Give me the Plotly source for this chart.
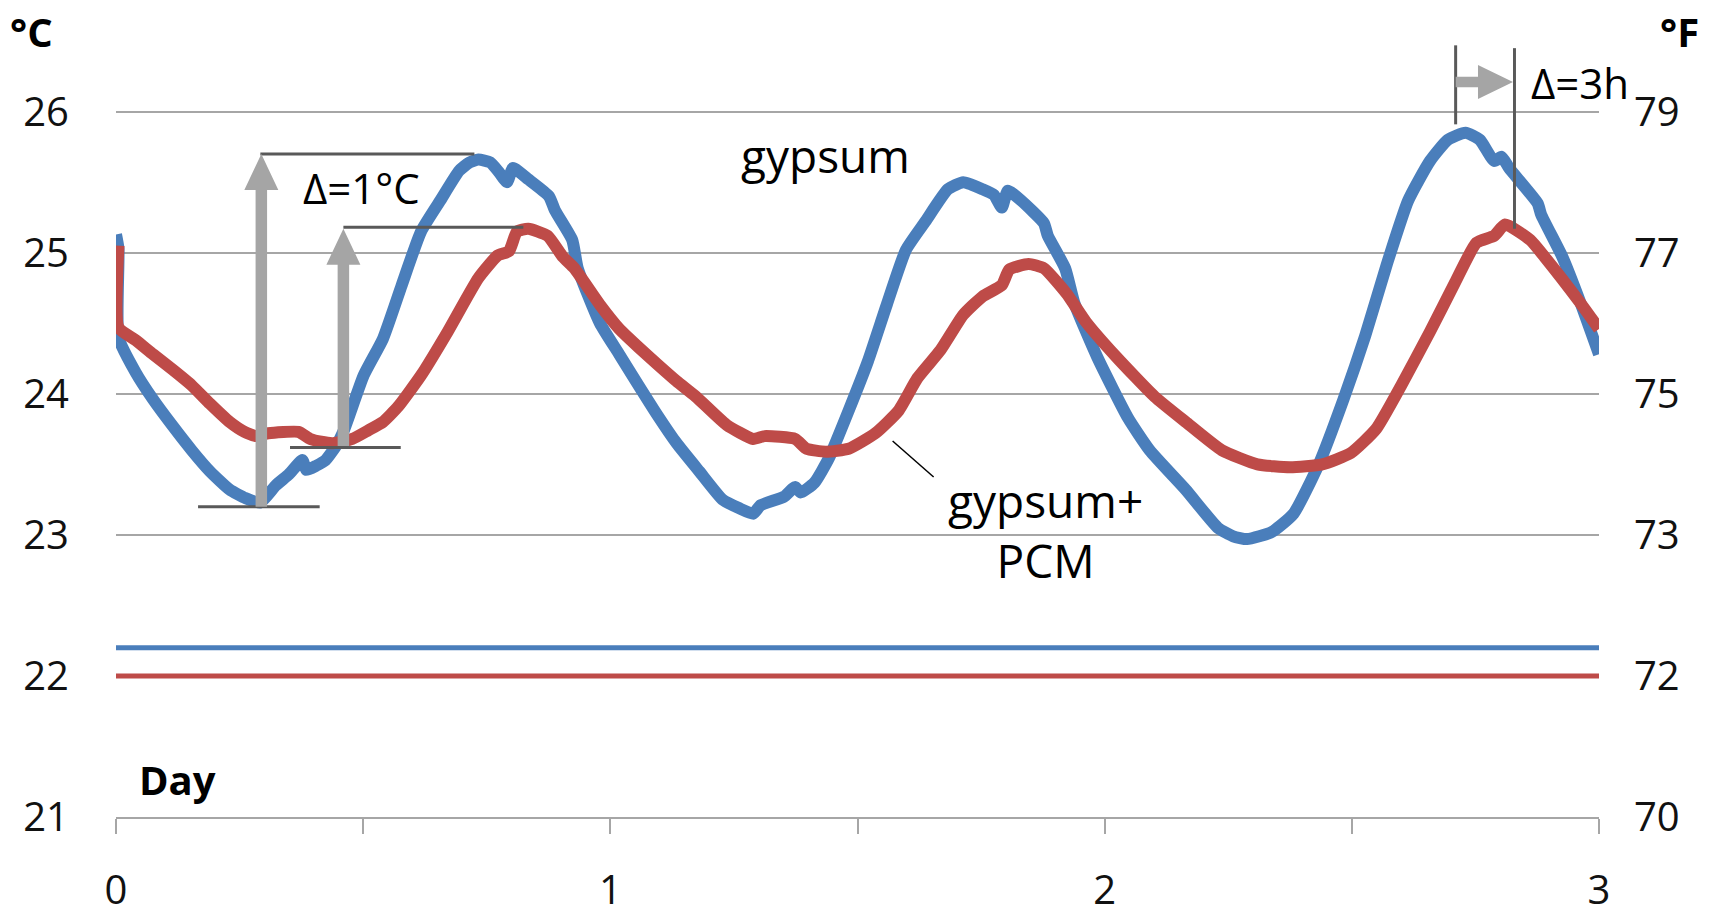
import plotly.graph_objects as go

# Measured room temperature over three days (x in days, y in °C)
gypsum_day = [0.000, 0.005, 0.005, 0.040, 0.075, 0.115, 0.153, 0.190, 0.230, 0.262,
              0.292, 0.323, 0.350, 0.377, 0.385, 0.405, 0.424, 0.445, 0.462, 0.501,
              0.540, 0.578, 0.617, 0.656, 0.694, 0.715, 0.733, 0.757, 0.775, 0.791,
              0.803, 0.834, 0.876, 0.888, 0.923, 0.934, 0.979, 1.018, 1.057, 1.095,
              1.134, 1.180, 1.227, 1.260, 1.289, 1.304, 1.351, 1.374, 1.385, 1.413,
              1.443, 1.482, 1.521, 1.560, 1.598, 1.637, 1.683, 1.714, 1.753, 1.776,
              1.792, 1.804, 1.831, 1.877, 1.885, 1.920, 1.939, 1.985, 2.047, 2.091,
              2.164, 2.229, 2.260, 2.288, 2.338, 2.382, 2.433, 2.483, 2.527, 2.571,
              2.614, 2.658, 2.694, 2.730, 2.759, 2.788, 2.803, 2.818, 2.876, 2.883,
              2.926, 2.963, 3.000]
gypsum_temp = [25.13, 25.03, 24.40, 24.15, 23.96, 23.77, 23.60, 23.45, 23.32, 23.26,
               23.23, 23.35, 23.43, 23.53, 23.46, 23.49, 23.53, 23.63, 23.75, 24.13,
               24.39, 24.77, 25.15, 25.37, 25.58, 25.64, 25.66, 25.64, 25.57, 25.50,
               25.60, 25.52, 25.40, 25.30, 25.09, 24.89, 24.50, 24.28, 24.06, 23.85,
               23.65, 23.45, 23.25, 23.19, 23.15, 23.21, 23.27, 23.34, 23.30, 23.37,
               23.55, 23.88, 24.23, 24.64, 25.02, 25.22, 25.45, 25.50, 25.45, 25.41,
               25.32, 25.44, 25.37, 25.21, 25.12, 24.89, 24.64, 24.26, 23.83, 23.60,
               23.32, 23.05, 22.99, 22.97, 23.02, 23.15, 23.50, 23.96, 24.41, 24.92,
               25.37, 25.65, 25.80, 25.85, 25.80, 25.65, 25.68, 25.60, 25.35, 25.27,
               24.97, 24.64, 24.28]

pcm_day = [0.005, 0.005, 0.040, 0.075, 0.115, 0.153, 0.190, 0.230, 0.260, 0.284,
           0.308, 0.369, 0.393, 0.415, 0.439, 0.478, 0.510, 0.540, 0.571, 0.617,
           0.671, 0.733, 0.772, 0.795, 0.811, 0.834, 0.873, 0.904, 0.927, 0.979,
           1.018, 1.057, 1.095, 1.134, 1.173, 1.235, 1.289, 1.312, 1.374, 1.397,
           1.436, 1.482, 1.536, 1.583, 1.621, 1.668, 1.714, 1.753, 1.792, 1.807,
           1.846, 1.877, 1.923, 1.962, 2.024, 2.101, 2.164, 2.237, 2.309, 2.375,
           2.440, 2.498, 2.549, 2.600, 2.658, 2.709, 2.752, 2.788, 2.810, 2.861,
           2.890, 2.963, 3.000]
pcm_temp = [25.05, 24.47, 24.38, 24.28, 24.17, 24.06, 23.93, 23.80, 23.73, 23.70,
            23.72, 23.73, 23.68, 23.66, 23.65, 23.68, 23.74, 23.80, 23.91, 24.13,
            24.44, 24.82, 24.98, 25.01, 25.15, 25.17, 25.12, 24.97, 24.89, 24.63,
            24.46, 24.33, 24.21, 24.09, 23.98, 23.78, 23.68, 23.70, 23.68, 23.61,
            23.59, 23.61, 23.72, 23.88, 24.11, 24.31, 24.56, 24.69, 24.77, 24.88,
            24.92, 24.89, 24.71, 24.51, 24.26, 23.98, 23.80, 23.60, 23.50, 23.48,
            23.50, 23.58, 23.75, 24.06, 24.44, 24.79, 25.07, 25.12, 25.20, 25.09,
            24.97, 24.64, 24.46]

# Constant reference levels (°C)
setpoint_days = [0, 3]
gypsum_setpoint = 22.2
pcm_setpoint = 22.0

celsius_ticks = [21, 22, 23, 24, 25, 26]
fahrenheit_labels = ["70", "72", "73", "75", "77", "79"]
day_ticks = [0, 0.5, 1, 1.5, 2, 2.5, 3]
day_labels = ["0", "", "1", "", "2", "", "3"]

BLUE = "#4A7EBB"
RED = "#BE4B48"
GRID = "#A6A6A6"
ARROW = "#A5A5A5"
DARK = "#595959"
FONT = "Open Sans"

W, H = 1713, 913
ML, MR, MT, MB = 116, 114, 27, 96
Y_RANGE = [21, 26.6]
X_RANGE = [0, 3]
px_per_day = (W - ML - MR) / (X_RANGE[1] - X_RANGE[0])
px_per_deg = (H - MT - MB) / (Y_RANGE[1] - Y_RANGE[0])

fig = go.Figure()

curve_line = dict(width=12, shape="spline", smoothing=0.5)
fig.add_trace(go.Scatter(x=gypsum_day, y=gypsum_temp, mode="lines",
                         line=dict(color=BLUE, **curve_line), showlegend=False,
                         hoverinfo="skip"))
fig.add_trace(go.Scatter(x=pcm_day, y=pcm_temp, mode="lines",
                         line=dict(color=RED, **curve_line), showlegend=False,
                         hoverinfo="skip"))
fig.add_trace(go.Scatter(x=setpoint_days, y=[gypsum_setpoint] * 2, mode="lines",
                         line=dict(color=BLUE, width=5), showlegend=False,
                         hoverinfo="skip", yaxis="y2"))
fig.add_trace(go.Scatter(x=setpoint_days, y=[pcm_setpoint] * 2, mode="lines",
                         line=dict(color=RED, width=5), showlegend=False,
                         hoverinfo="skip", yaxis="y2"))


def up_arrow(x, y0, y1):
    s = 5.75 / px_per_day
    hw = 17 / px_per_day
    hl = 36 / px_per_deg
    yb = y1 - hl
    return (f"M {x - s},{y0} L {x + s},{y0} L {x + s},{yb} L {x + hw},{yb} "
            f"L {x},{y1} L {x - hw},{yb} L {x - s},{yb} Z")


def right_arrow(y, x0, x1):
    s = 5.3 / px_per_deg
    hw = 17 / px_per_deg
    hl = 35 / px_per_day
    xb = x1 - hl
    return (f"M {x0},{y - s} L {xb},{y - s} L {xb},{y - hw} L {x1},{y} "
            f"L {xb},{y + hw} L {xb},{y + s} L {x0},{y + s} Z")


shapes = []
# amplitude markers
for x0, x1, y in [(0.292, 0.725, 25.70), (0.166, 0.412, 23.20),
                  (0.460, 0.824, 25.18), (0.352, 0.576, 23.62)]:
    shapes.append(dict(type="line", xref="x", yref="y", x0=x0, x1=x1, y0=y, y1=y,
                       line=dict(color=DARK, width=3)))
shapes.append(dict(type="path", xref="x", yref="y", path=up_arrow(0.294, 23.20, 25.70),
                   fillcolor=ARROW, line=dict(width=0)))
shapes.append(dict(type="path", xref="x", yref="y", path=up_arrow(0.460, 23.63, 25.17),
                   fillcolor=ARROW, line=dict(width=0)))
# peak shift markers
shapes.append(dict(type="line", xref="x", yref="y", x0=2.710, x1=2.710, y0=25.91, y1=26.47,
                   line=dict(color=DARK, width=3)))
shapes.append(dict(type="line", xref="x", yref="y", x0=2.829, x1=2.829, y0=25.17, y1=26.45,
                   line=dict(color=DARK, width=3)))
shapes.append(dict(type="path", xref="x", yref="y", path=right_arrow(26.21, 2.710, 2.826),
                   fillcolor=ARROW, line=dict(width=0)))
# leader line for the PCM label
shapes.append(dict(type="line", xref="x", yref="y", x0=1.571, x1=1.654, y0=23.665, y1=23.41,
                   line=dict(color="black", width=1.5)))


def px_to_paper(px, py):
    return (px - ML) / (W - ML - MR), (H - MB - py) / (H - MT - MB)


cx, cy = px_to_paper(31, 31)
fx, fy = px_to_paper(1680, 31)


def label(text, x, y, size, ref="data"):
    xr, yr = ("x", "y") if ref == "data" else ("paper", "paper")
    return dict(text=text, x=x, y=y, xref=xr, yref=yr, showarrow=False,
                xanchor="center", yanchor="middle", align="center",
                font=dict(size=size, color="black", family=FONT))


annotations = [
    label("gypsum", 1.435, 25.69, 46),
    label("gypsum+<br>PCM", 1.881, 23.035, 46),
    label("Δ=1°C", 0.496, 25.465, 42),
    label("Δ=3h", 2.961, 26.205, 42),
    label("<b>Day</b>", 0.124, 21.265, 40),
    label("<b>°C</b>", cx, cy, 40, ref="paper"),
    label("<b>°F</b>", fx, fy, 40, ref="paper"),
]

fig.update_layout(
    width=W, height=H, autosize=False,
    margin=dict(l=ML, r=MR, t=MT, b=MB, pad=0, autoexpand=False),
    paper_bgcolor="white", plot_bgcolor="white",
    font=dict(family=FONT, color="#111111"),
    xaxis=dict(range=X_RANGE, tickvals=day_ticks, ticktext=day_labels,
               ticks="outside", ticklen=15, tickwidth=1.5, tickcolor=GRID,
               showline=True, linecolor=GRID, linewidth=2, showgrid=False,
               zeroline=False, ticklabelstandoff=22, automargin=False,
               tickfont=dict(size=40, family=FONT, color="#111111")),
    yaxis=dict(range=Y_RANGE, tickvals=celsius_ticks, ticktext=[str(v) for v in celsius_ticks],
               showgrid=True, gridcolor=GRID, gridwidth=1.5, zeroline=False,
               showline=False, ticks="", ticklabelstandoff=46, automargin=False,
               tickfont=dict(size=40, family=FONT, color="#111111")),
    yaxis2=dict(range=Y_RANGE, overlaying="y", side="right", tickvals=celsius_ticks,
                ticktext=fahrenheit_labels, showgrid=False, zeroline=False,
                showline=False, ticks="", ticklabelstandoff=34, automargin=False,
                tickfont=dict(size=40, family=FONT, color="#111111")),
    shapes=shapes,
    annotations=annotations,
)

fig.write_html("out.html")
